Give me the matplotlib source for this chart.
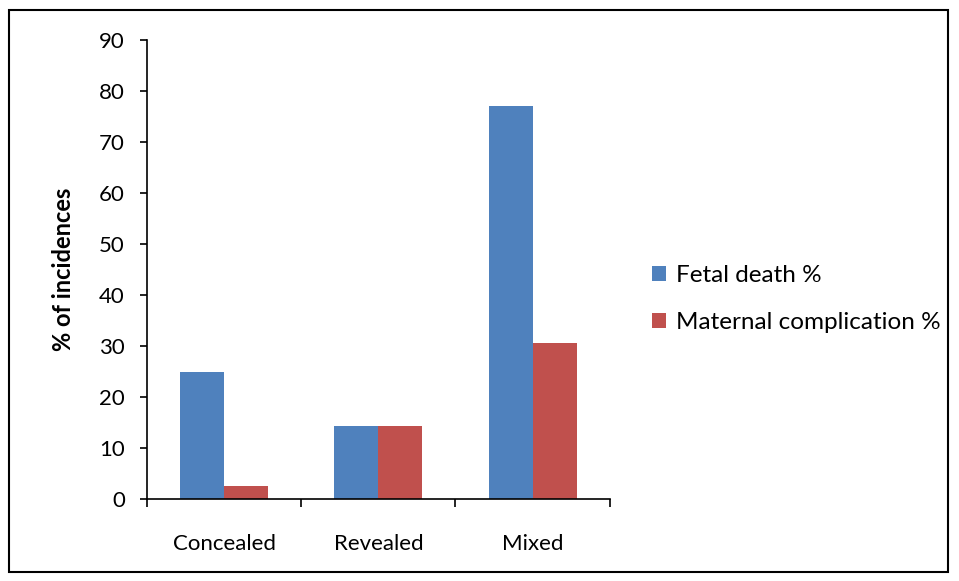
import numpy as np
import matplotlib

matplotlib.use('Agg')
import matplotlib.pyplot as plt
from matplotlib.patches import Rectangle

categories = ['Concealed', 'Revealed', 'Mixed']
fetal_death = [25, 14.3, 77]
maternal_complication = [2.6, 14.3, 30.6]
series_names = ['Fetal death %', 'Maternal complication %']

plt.rcParams['font.family'] = ['Lato', 'DejaVu Sans']
fs = 16

fig = plt.figure(figsize=(9.59, 5.81), dpi=100)
ax = fig.add_axes([0.1533, 0.1406, 0.4825, 0.7905])

x = np.arange(len(categories))
width = 0.286
ax.bar(x - width / 2, fetal_death, width, color='#4f81bd', label=series_names[0])
ax.bar(x + width / 2, maternal_complication, width, color='#c0504d', label=series_names[1])

ax.set_xlim(-0.5, len(categories) - 0.5)
ax.set_ylim(0, 90)
ax.set_yticks(np.arange(0, 91, 10))
ax.set_xticks(np.arange(-0.5, len(categories), 1))
ax.set_xticklabels([])
ax.tick_params(axis='x', length=6, width=1.2, direction='out')
ax.tick_params(axis='y', length=5, width=1.2, direction='out', labelsize=fs, pad=11)
for xi, name in zip(x, categories):
    ax.text(xi, -8.8, name, ha='center', va='center', fontsize=fs)

for side in ['top', 'right']:
    ax.spines[side].set_visible(False)
for side in ['left', 'bottom']:
    ax.spines[side].set_linewidth(1.2)

ax.set_ylabel('% of incidences', fontsize=17, fontweight='bold', labelpad=17)

ax.legend(loc='center left', bbox_to_anchor=(1.045, 0.436), frameon=False,
          fontsize=17.5, handlelength=0.55, handleheight=0.55, handletextpad=0.4,
          labelspacing=1.05)

fig.patches.append(Rectangle((0.0094, 0.0155), 0.979, 0.967, transform=fig.transFigure,
                             fill=False, edgecolor='black', linewidth=1.5))

fig.savefig('out.png', dpi=100)
